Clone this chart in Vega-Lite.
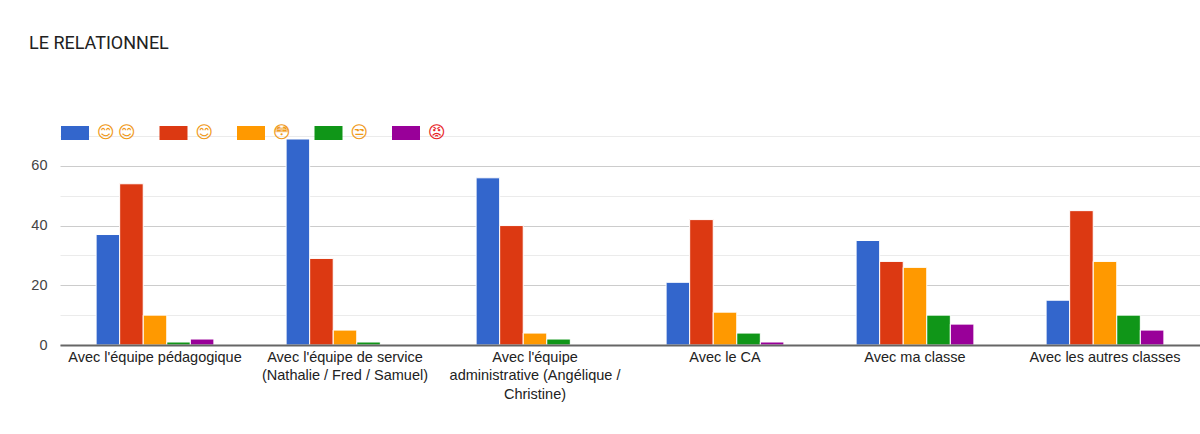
{
"$schema":"https://vega.github.io/schema/vega-lite/v6.json",
"width":1140,"height":209,
"autosize":{"type":"none"},
"padding":{"left":60,"top":136,"right":0,"bottom":89},
"background":"white",
"title":{"text":"LE RELATIONNEL","anchor":"start","frame":"group","dx":-31,"offset":66,"font":"Roboto","fontSize":18,"fontWeight":"normal","color":"#212121"},
"config":{"view":{"stroke":null}},
"data":{"values":[
{"g":"Avec l'équipe pédagogique","s":"😊 😊","v":37},{"g":"Avec l'équipe pédagogique","s":"😊","v":54},{"g":"Avec l'équipe pédagogique","s":"😳","v":10},{"g":"Avec l'équipe pédagogique","s":"😒","v":1},{"g":"Avec l'équipe pédagogique","s":"😡","v":2},
{"g":"Avec l'équipe de service (Nathalie / Fred / Samuel)","s":"😊 😊","v":69},{"g":"Avec l'équipe de service (Nathalie / Fred / Samuel)","s":"😊","v":29},{"g":"Avec l'équipe de service (Nathalie / Fred / Samuel)","s":"😳","v":5},{"g":"Avec l'équipe de service (Nathalie / Fred / Samuel)","s":"😒","v":1},{"g":"Avec l'équipe de service (Nathalie / Fred / Samuel)","s":"😡","v":0},
{"g":"Avec l'équipe administrative (Angélique / Christine)","s":"😊 😊","v":56},{"g":"Avec l'équipe administrative (Angélique / Christine)","s":"😊","v":40},{"g":"Avec l'équipe administrative (Angélique / Christine)","s":"😳","v":4},{"g":"Avec l'équipe administrative (Angélique / Christine)","s":"😒","v":2},{"g":"Avec l'équipe administrative (Angélique / Christine)","s":"😡","v":0},
{"g":"Avec le CA","s":"😊 😊","v":21},{"g":"Avec le CA","s":"😊","v":42},{"g":"Avec le CA","s":"😳","v":11},{"g":"Avec le CA","s":"😒","v":4},{"g":"Avec le CA","s":"😡","v":1},
{"g":"Avec ma classe","s":"😊 😊","v":35},{"g":"Avec ma classe","s":"😊","v":28},{"g":"Avec ma classe","s":"😳","v":26},{"g":"Avec ma classe","s":"😒","v":10},{"g":"Avec ma classe","s":"😡","v":7},
{"g":"Avec les autres classes","s":"😊 😊","v":15},{"g":"Avec les autres classes","s":"😊","v":45},{"g":"Avec les autres classes","s":"😳","v":28},{"g":"Avec les autres classes","s":"😒","v":10},{"g":"Avec les autres classes","s":"😡","v":5}
]},
"mark":{"type":"bar","stroke":"white","strokeWidth":1},
"encoding":{
"x":{"field":"g","type":"nominal","sort":null,"scale":{"paddingInner":0.38,"paddingOuter":0.19},
 "axis":{"title":null,"labelAngle":0,"labelFont":"Liberation Sans","labelFontSize":14.5,"labelColor":"#222222","ticks":false,"domainColor":"#666666","domainWidth":2,"zindex":1,"labelPadding":5,"labelLimit":300,"labelLineHeight":18.5,
 "labelExpr":"datum.value=='Avec l\\'équipe de service (Nathalie / Fred / Samuel)'?['Avec l\\'équipe de service','(Nathalie / Fred / Samuel)']:datum.value=='Avec l\\'équipe administrative (Angélique / Christine)'?['Avec l\\'équipe','administrative (Angélique /','Christine)']:datum.value"}},
"xOffset":{"field":"s","type":"nominal","sort":null,"scale":{"domain":["😊 😊","😊","😳","😒","😡"]}},
"y":{"field":"v","type":"quantitative","scale":{"domain":[0,70],"nice":false},
 "axis":{"title":null,"values":[0,10,20,30,40,50,60,70],"labelExpr":"datum.value%20==0?datum.label:''","grid":true,"gridColor":{"condition":{"test":"datum.value%20==0","value":"#cccccc"},"value":"#ebebeb"},"gridWidth":1,"domain":false,"ticks":false,"labelFont":"Liberation Sans","labelFontSize":14.5,"labelColor":"#444444","labelPadding":13}},
"color":{"field":"s","type":"nominal","sort":null,"scale":{"domain":["😊 😊","😊","😳","😒","😡"],"range":["#3366cc","#dc3912","#ff9900","#109618","#990099"]},
 "legend":{"title":null,"orient":"none","legendX":1,"legendY":-17,"direction":"horizontal","columns":5,"gridAlign":"none","symbolType":"M-1,-0.5H1V0.5H-1Z","symbolSize":784,"symbolStrokeWidth":0,"labelFont":"DejaVu Sans","labelFontSize":17,"columnPadding":23.5,"labelOffset":8,"symbolOpacity":1,"labelExpr":"datum.value=='😊 😊'?'😊\u2009😊':datum.value","encoding":{"labels":{"fill":{"condition":{"test":"datum.value=='😡'","value":"#e8262a"},"value":"#f09a1a"}}}}}
}
}
